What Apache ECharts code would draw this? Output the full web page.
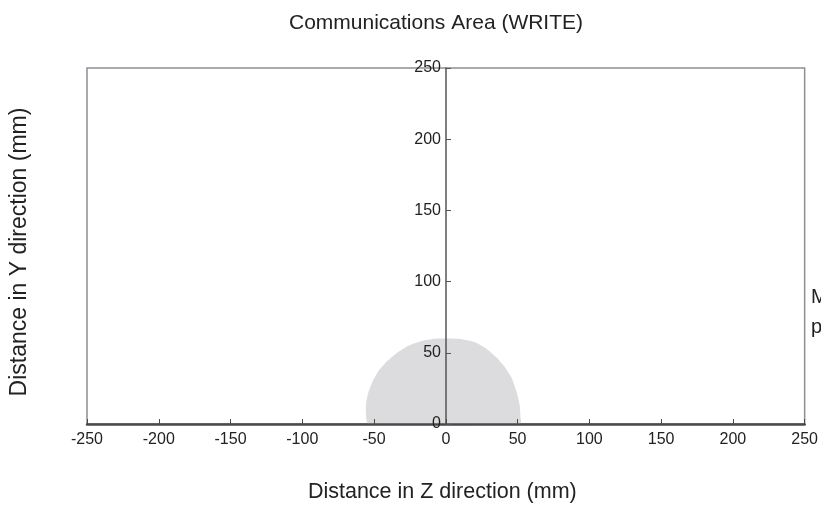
<!DOCTYPE html>
<html><head><meta charset="utf-8">
<script src="https://cdn.jsdelivr.net/npm/echarts@6/dist/echarts.min.js"></script>
<style>html,body{margin:0;padding:0;background:#fff}#c{width:821px;height:508px}</style>
</head><body><div id="c"></div>
<script>
const titleText = 'Communications Area (WRITE)';
const xName = 'Distance in Z direction (mm)';
const yName = 'Distance in Y direction (mm)';
const sideText = ['Metal', 'plate'];
// boundary of the communication area (Z, Y) in mm
const areaZ = [-54, -55.7, -55.5, -54, -51, -47, -41, -34, -26, -16, -6, 0, 10, 20, 28, 35, 41, 46, 49.5, 51.5, 52, 52];
const areaY = [0, 8, 15, 22, 30, 37, 44, 50, 55, 58.5, 60, 60, 59.7, 57.5, 53, 47, 40, 32, 22, 13, 5, 0];
const xTicks = [-250, 250, 50];
const yTicks = [0, 250, 50];

const font = 'Arial, "Liberation Sans", sans-serif';
const chart = echarts.init(document.getElementById('c'));
const pts = areaZ.map((z, i) => [z, areaY[i]]);
chart.setOption({
  animation: false,
  title: { text: titleText, left: 431, top: 8, textAlign: 'center',
    textStyle: { fontFamily: font, fontSize: 21, fontWeight: 'normal', color: '#222' } },
  grid: { left: 87, right: 16, top: 68, bottom: 83, show: true, borderColor: '#8a9096', borderWidth: 1.5 },
  xAxis: { type: 'value', min: xTicks[0], max: xTicks[1], interval: xTicks[2], z: 10,
    name: xName, nameLocation: 'middle', nameGap: 57,
    nameTextStyle: { fontFamily: font, fontSize: 21.5, color: '#222', padding: [0, 7, 0, 0] },
    axisLine: { lineStyle: { color: '#4a4a4a', width: 2.5 } },
    axisTick: { inside: true, length: 5, lineStyle: { color: '#4a4a4a' } },
    axisLabel: { fontFamily: font, fontSize: 16, color: '#222', margin: 8 },
    splitLine: { show: false } },
  yAxis: { type: 'value', min: yTicks[0], max: yTicks[1], interval: yTicks[2], z: 10,
    offset: -359,
    axisLine: { onZero: false, lineStyle: { color: '#555', width: 1.5 } },
    axisTick: { inside: true, length: 5, lineStyle: { color: '#555' } },
    axisLabel: { fontFamily: font, fontSize: 16, color: '#222', margin: 5 },
    splitLine: { show: false } },
  graphic: [
    { type: 'text', x: 20, y: 252, rotation: Math.PI / 2,
      style: { text: yName, fill: '#222', font: '23px ' + font, align: 'center', verticalAlign: 'middle' } },
    { type: 'text', x: 811, y: 297, style: { text: sideText[0], fill: '#222', font: '20px ' + font, verticalAlign: 'middle' } },
    { type: 'text', x: 811, y: 327, style: { text: sideText[1], fill: '#222', font: '20px ' + font, verticalAlign: 'middle' } }
  ],
  series: [{
    type: 'custom', z: 1, data: [0],
    renderItem: function (params, api) {
      return { type: 'polygon', shape: { points: pts.map(p => api.coord(p)), smooth: 0.2 },
        style: { fill: '#dcdcde', stroke: null } };
    }
  }]
});
</script></body></html>
